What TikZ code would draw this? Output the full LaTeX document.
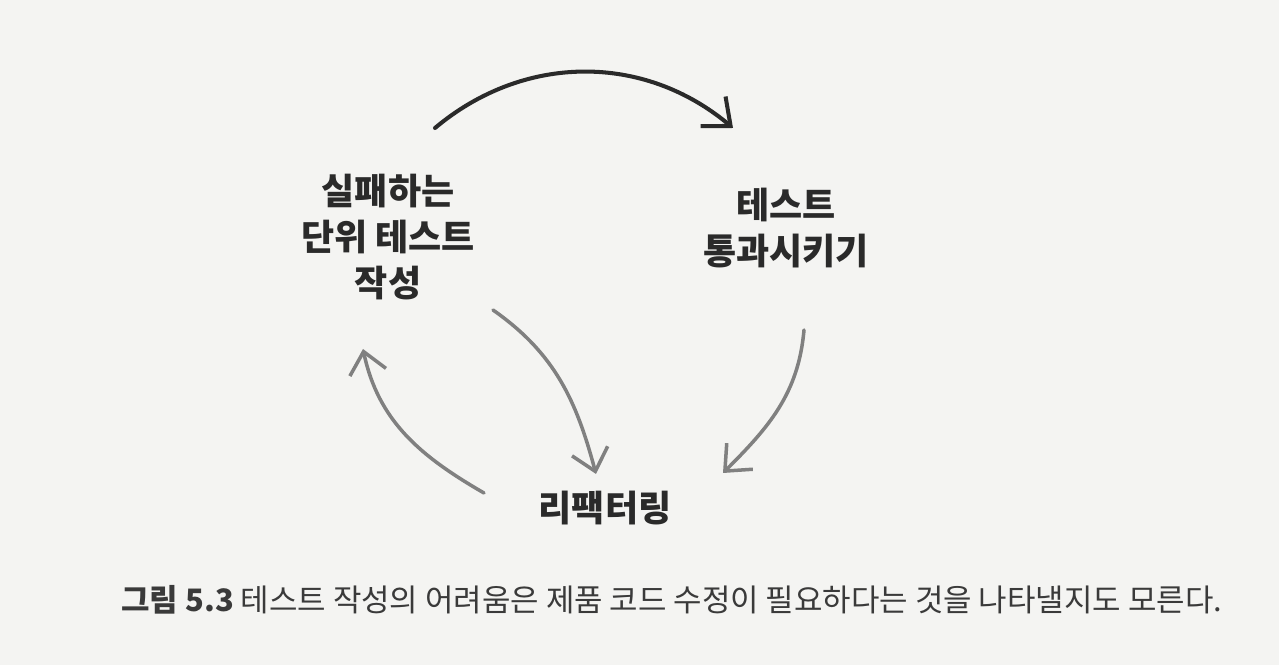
\documentclass[tikz,border=0pt]{standalone}
\usepackage{fontspec}
\usepackage{tikz}
\usetikzlibrary{arrows.meta}
\newfontfamily\cjk{Noto Sans CJK KR}
\definecolor{paper}{HTML}{F4F4F2}
\definecolor{ink}{HTML}{2A2A2A}
\definecolor{pencil}{HTML}{808080}
\definecolor{captext}{HTML}{3A3A3A}

\tikzset{
  hand/.style={font=\cjk\bfseries\fontsize{20.5}{26}\selectfont,align=center,text=ink},
  pen/.style={line width=2.3pt,ink,line cap=round,-{Straight Barb[length=13pt,width=22pt,line width=2.3pt]}},
  lead/.style={line width=2pt,pencil,line cap=round,-{Straight Barb[length=12pt,width=21pt,line width=2pt]}}
}

\begin{document}
\begin{tikzpicture}[x=0.02cm,y=0.02cm]
  \fill[paper] (0,0) rectangle (1279,-665);
  \useasboundingbox (0,0) rectangle (1279,-665);
  % the three steps
  \node[hand] (fail) at (388,-237) {실패하는\\단위 테스트\\작성};
  \node[hand] (pass) at (786,-228) {테스트\\통과시키기};
  \node[hand] (refactor) at (605,-508) {리팩터링};
  % arrow ends
  \coordinate (failout) at (435,-128);
  \coordinate (passin) at (733,-128);
  \coordinate (passout) at (804,-330);
  \coordinate (refin1) at (723,-473);
  \coordinate (failout2) at (493,-310);
  \coordinate (refin2) at (596,-474);
  \coordinate (refout) at (484,-493);
  \coordinate (failin) at (363,-349);
  \draw[pen] (failout) to[out=40,in=140] (passin);
  \draw[lead] (passout) to[out=-95,in=45] (refin1);
  \draw[lead] (failout2) to[out=-35,in=105] (refin2);
  \draw[lead] (refout) to[out=150,in=-78] (failin);
  % caption
  \node[anchor=west,inner sep=0pt,text=captext,font=\cjk\fontsize{17.6}{20}\selectfont] (caption) at (121,-600)
    {\textbf{그림 5.3} 테스트 작성의 어려움은 제품 코드 수정이 필요하다는 것을 나타낼지도 모른다.};
\end{tikzpicture}
\end{document}
